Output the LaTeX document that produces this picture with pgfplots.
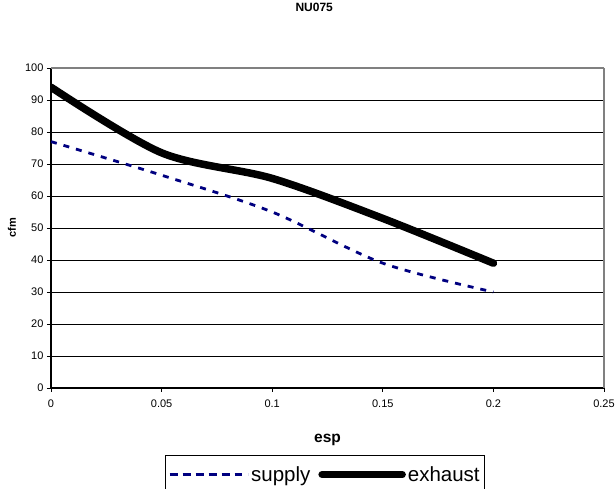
\documentclass[border=0pt]{standalone}
\usepackage{pgfplots}
\pgfplotsset{compat=1.18}
\usepackage{fontspec}
\setmainfont{Liberation Sans}
\definecolor{supplyblue}{RGB}{0,0,128}
\definecolor{borderGray}{RGB}{128,128,128}

\begin{document}
\begin{tikzpicture}
\begin{axis}[
  name=ax,
  scale only axis,
  width=553pt, height=320pt,
  xmin=0, xmax=0.25, ymin=0, ymax=100,
  xtick={0,0.05,0.1,0.15,0.2,0.25},
  xticklabels={0,0.05,0.1,0.15,0.2,0.25},
  ytick={0,10,...,100},
  axis lines=left,
  axis line style={-, black, line width=1.6pt},
  tick align=outside,
  major tick length=4pt,
  tick style={black, line width=0.8pt},
  ymajorgrids,
  grid style={black, line width=0.8pt},
  /pgf/number format/assume math mode=true,
  ticklabel style={font=\fontsize{11}{13}\selectfont},
  xticklabel style={yshift=-4pt},
  title={NU075},
  title style={font=\bfseries\fontsize{12}{14}\selectfont, at={(axis description cs:0.476,1)}, anchor=center, yshift=55pt},
  xlabel={esp},
  xlabel style={font=\bfseries\fontsize{15.5}{18}\selectfont, at={(axis description cs:0.5,0)}, anchor=center, yshift=-52pt},
  ylabel={cfm},
  ylabel style={font=\bfseries\fontsize{11}{13}\selectfont, at={(axis description cs:-0.0705,0.5)}, anchor=center},
  legend columns=2,
  legend style={at={(axis description cs:0.4955,0)}, anchor=north, yshift=-67pt,
    draw=black, line width=0.8pt, font=\fontsize{20.5}{24}\selectfont,
    inner xsep=3pt, inner ysep=9pt,
    /tikz/every even column/.append style={column sep=6pt}},
]
\addplot[supplyblue, line width=2.8pt, dash pattern=on 6pt off 7pt, smooth, tension=0.5,
  legend image code/.code={%
    \draw[solid, supplyblue, line width=2.8pt, dash pattern=on 6pt off 7pt] (2pt,0pt) -- (72pt,0pt);
    \path (0pt,0pt) -- (78pt,0pt);}]
  coordinates {(0,77)(0.05,66.5)(0.1,55)(0.15,39)(0.2,30)};
\addlegendentry{supply}
\addplot[black, line width=7.5pt, line cap=round, smooth, tension=0.5,
  legend image code/.code={%
    \draw[overlay, black, line width=7.5pt, line cap=round] (3.75pt,0pt) -- (79.25pt,0pt);
    \path (0pt,0pt) -- (80pt,0pt);}]
  coordinates {(0,94)(0.05,73.5)(0.1,65.5)(0.15,53)(0.2,39)};
\addlegendentry{exhaust\hspace{7pt}}
\end{axis}
\draw[borderGray, line width=2pt] (ax.north west) -- (ax.north east);
\draw[borderGray, line width=2.7pt] (ax.north east) -- (ax.south east);
\pgfresetboundingbox
\useasboundingbox ([xshift=-51pt,yshift=-101pt]ax.south west) rectangle ([xshift=11pt,yshift=68pt]ax.north east);
\end{tikzpicture}
\end{document}
